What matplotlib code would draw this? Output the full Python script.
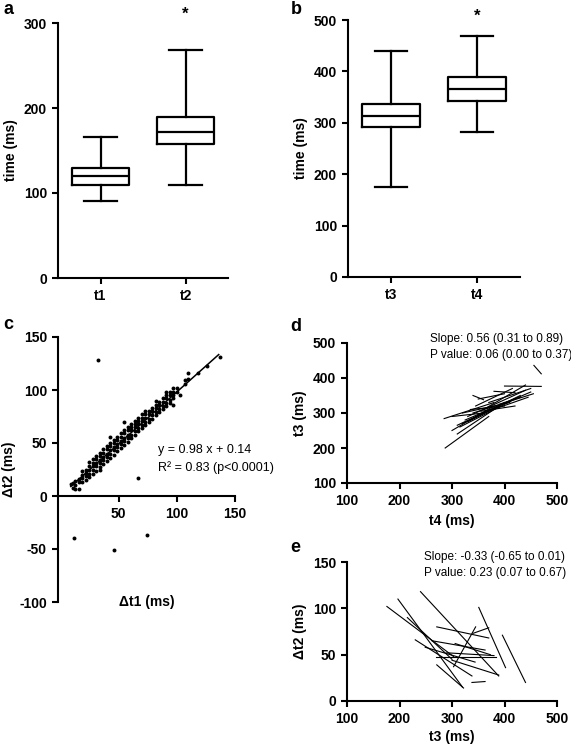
import matplotlib
matplotlib.use('Agg')
import matplotlib.pyplot as plt

plt.rcParams['font.family'] = ['Liberation Sans', 'DejaVu Sans']
plt.rcParams['axes.unicode_minus'] = False

W, H = 571, 744

# ---------------- Panel a ----------------
a_labels = ['t1', 't2']
a_whislo = [91, 109]
a_q1 = [109, 158]
a_med = [120, 172]
a_q3 = [130, 190]
a_whishi = [166, 268]
a_yticks = [0, 100, 200, 300]

# ---------------- Panel b ----------------
b_labels = ['t3', 't4']
b_whislo = [175, 283]
b_q1 = [292, 342]
b_med = [313, 366]
b_q3 = [337, 390]
b_whishi = [440, 468]
b_yticks = [0, 100, 200, 300, 400, 500]

# ---------------- Panel c ----------------
# columns of points: x value and the y values read at that x
c_col_x = [9, 11, 13, 16, 19, 22, 25, 28, 31, 34, 37, 40, 43, 46, 49, 52,
           55, 58, 61, 64, 67, 70, 73, 76, 79, 82, 85, 88, 91, 94, 97, 100,
           103, 107, 110, 118, 126, 137]
c_col_y = [[11], [8, 12], [14, 7, 10], [7, 13, 16], [13, 17, 20, 24],
           [15, 19, 22, 25], [18, 21, 25, 28, 32], [21, 25, 28, 31, 35],
           [24, 28, 31, 35, 38], [25, 27, 31, 34, 38, 41],
           [30, 34, 37, 41, 44], [33, 37, 40, 44, 47],
           [36, 40, 43, 47, 50, 56], [39, 43, 46, 50, 53],
           [42, 46, 49, 53, 56], [45, 49, 52, 56, 59],
           [48, 52, 55, 59, 62, 70], [51, 55, 58, 62, 65],
           [55, 58, 62, 65, 68], [58, 61, 65, 68, 71],
           [61, 64, 68, 71, 74], [64, 67, 71, 74, 77],
           [67, 70, 74, 77, 80], [70, 73, 77, 80], [73, 76, 80, 83],
           [76, 79, 83, 86, 90], [79, 82, 86, 89], [82, 85, 89, 92],
           [85, 88, 92, 95, 98], [88, 91, 95, 98], [86, 92, 95, 98, 102],
           [98, 102], [95], [106, 109], [116, 110], [116], [123], [131]]
c_out_x = [32, 12, 46, 74, 67]
c_out_y = [128, -40, -51, -37, 17]
c_fit_slope = 0.98
c_fit_intercept = 0.14
c_fit_range = [9, 136]
c_xticks = [50, 100, 150]
c_yticks = [-100, -50, 0, 50, 100, 150]

# ---------------- Panel d (t4 vs t3 segments) ----------------
d_x0 = [287, 285, 456, 400, 340, 310, 315, 320, 300, 325, 330, 340, 350,
        360, 345, 320, 335, 380, 350, 370, 330, 310, 355, 300, 390]
d_y0 = [200, 284, 436, 377, 350, 240, 260, 270, 250, 280, 290, 300, 295,
        310, 320, 300, 310, 362, 340, 330, 275, 265, 305, 290, 325]
d_x1 = [370, 380, 470, 470, 360, 400, 420, 430, 380, 450, 440, 455, 445,
        440, 415, 410, 400, 420, 400, 450, 390, 360, 420, 360, 430]
d_y1 = [290, 330, 412, 376, 338, 330, 340, 350, 320, 360, 365, 355, 345,
        380, 370, 330, 320, 358, 355, 370, 320, 300, 320, 300, 345]
d_ticks_x = [100, 200, 300, 400, 500]
d_ticks_y = [100, 200, 300, 400, 500]

# ---------------- Panel e (t3 vs dt2 segments) ----------------
e_x0 = [176, 197, 240, 351, 396, 230, 271, 270, 271, 340, 303, 262, 300,
        338, 306, 249, 290, 215]
e_y0 = [102, 110, 118, 101, 71, 66, 39, 48, 80, 73, 37, 65, 44,
        20, 62, 58, 52, 90]
e_x1 = [303, 320, 389, 402, 440, 338, 322, 384, 370, 370, 345, 363, 389,
        363, 373, 344, 380, 300]
e_y1 = [48, 15, 27, 36, 20, 27, 14, 48, 68, 79, 80, 55, 28,
        21, 50, 42, 49, 45]
e_ticks_x = [100, 200, 300, 400, 500]
e_ticks_y = [0, 50, 100, 150]

FS = 10

fig = plt.figure(figsize=(W / 100, H / 100), dpi=100)


def rect(left, top, right, bottom):
    return [left / W, 1 - bottom / H, (right - left) / W, (bottom - top) / H]


def style(ax):
    for s in ['top', 'right']:
        ax.spines[s].set_visible(False)
    for s in ['left', 'bottom']:
        ax.spines[s].set_linewidth(1.5)
    ax.tick_params(direction='out', width=1.5, length=4.5, labelsize=FS)
    for lab in ax.get_xticklabels() + ax.get_yticklabels():
        lab.set_fontweight('bold')


def boxpanel(ax, labels, lo, q1, med, q3, hi, yticks):
    stats = []
    for i in range(len(labels)):
        stats.append(dict(label=labels[i], whislo=lo[i], q1=q1[i], med=med[i],
                          q3=q3[i], whishi=hi[i], fliers=[]))
    lw = 1.6
    ax.bxp(stats, positions=[1, 2], widths=0.67, capwidths=0.38,
           showfliers=False,
           boxprops=dict(linewidth=lw, color='black'),
           medianprops=dict(linewidth=lw, color='black'),
           whiskerprops=dict(linewidth=lw, color='black'),
           capprops=dict(linewidth=lw, color='black'))
    ax.set_xlim(0.5, 2.5)
    ax.set_ylim(yticks[0], yticks[-1])
    ax.set_yticks(yticks)
    style(ax)
    ax.set_ylabel('time (ms)', fontweight='bold', fontsize=FS)


# Panel a
axa = fig.add_axes(rect(58, 23, 228, 278))
boxpanel(axa, a_labels, a_whislo, a_q1, a_med, a_q3, a_whishi, a_yticks)
axa.text(2, 310, '*', ha='center', va='center', fontsize=12, fontweight='bold',
         clip_on=False)

# Panel b
axb = fig.add_axes(rect(348, 20, 520, 277))
boxpanel(axb, b_labels, b_whislo, b_q1, b_med, b_q3, b_whishi, b_yticks)
axb.text(2, 508, '*', ha='center', va='center', fontsize=12, fontweight='bold',
         clip_on=False)

# Panel c
axc = fig.add_axes(rect(58, 337, 235, 602))
c_x = []
c_y = []
for xv, ys in zip(c_col_x, c_col_y):
    for yv in ys:
        c_x.append(xv)
        c_y.append(yv)
c_x += c_out_x
c_y += c_out_y
axc.scatter(c_x, c_y, s=8, color='black', linewidths=0)
fx = c_fit_range
fy = [c_fit_slope * v + c_fit_intercept for v in fx]
axc.plot(fx, fy, color='black', linewidth=1.1)
axc.set_xlim(-2, 150)
axc.set_ylim(-100, 150)
axc.set_xticks(c_xticks)
axc.set_yticks(c_yticks)
axc.spines['bottom'].set_position(('data', 0))
axc.spines['bottom'].set_bounds(-2, 150)
style(axc)
axc.text(0.5, 0.0, 'Δt1 (ms)', transform=axc.transAxes, ha='center',
         va='center', fontsize=FS, fontweight='bold')
axc.set_ylabel('Δt2 (ms)', fontweight='bold', fontsize=FS, labelpad=2)
axc.text(84, 43, 'y = 0.98 x + 0.14', fontsize=9, va='center')
axc.text(84, 27, 'R² = 0.83 (p<0.0001)', fontsize=9, va='center')

# Panel d
axd = fig.add_axes(rect(347, 343, 557, 483))
for i in range(len(d_x0)):
    axd.plot([d_x0[i], d_x1[i]], [d_y0[i], d_y1[i]], color='black',
             linewidth=0.8)
axd.set_xlim(100, 500)
axd.set_ylim(100, 500)
axd.set_xticks(d_ticks_x)
axd.set_yticks(d_ticks_y)
style(axd)
axd.set_xlabel('t4 (ms)', fontweight='bold', fontsize=FS, labelpad=4)
axd.set_ylabel('t3 (ms)', fontweight='bold', fontsize=FS)

# Panel e
axe = fig.add_axes(rect(347, 562, 557, 701))
for i in range(len(e_x0)):
    axe.plot([e_x0[i], e_x1[i]], [e_y0[i], e_y1[i]], color='black',
             linewidth=0.8)
axe.set_xlim(100, 500)
axe.set_ylim(0, 150)
axe.set_xticks(e_ticks_x)
axe.set_yticks(e_ticks_y)
style(axe)
axe.set_xlabel('t3 (ms)', fontweight='bold', fontsize=FS, labelpad=3)
axe.set_ylabel('Δt2 (ms)', fontweight='bold', fontsize=FS)


def ftext(x, y, s, **kw):
    fig.text(x / W, 1 - y / H, s, **kw)


ftext(3, 10, 'a', fontsize=13, fontweight='bold', va='center')
ftext(291, 10, 'b', fontsize=13, fontweight='bold', va='center')
ftext(3, 324, 'c', fontsize=13, fontweight='bold', va='center')
ftext(290, 326, 'd', fontsize=13, fontweight='bold', va='center')
ftext(290, 548, 'e', fontsize=13, fontweight='bold', va='center')

ftext(430, 339, 'Slope: 0.56 (0.31 to 0.89)', fontsize=8.5, va='center')
ftext(430, 355, 'P value: 0.06 (0.00 to 0.37)', fontsize=8.5, va='center')
ftext(424, 557, 'Slope: -0.33 (-0.65 to 0.01)', fontsize=8.5, va='center')
ftext(424, 573, 'P value: 0.23 (0.07 to 0.67)', fontsize=8.5, va='center')

fig.savefig('out.png', dpi=100)
